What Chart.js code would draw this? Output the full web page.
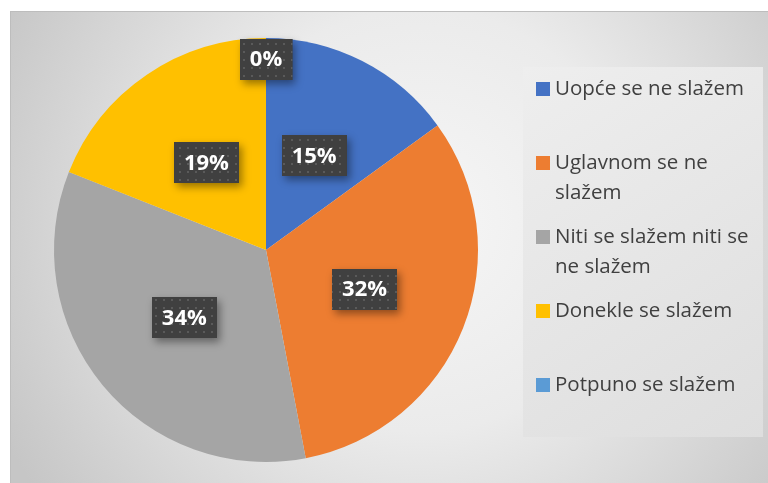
<!DOCTYPE html>
<html>
<head>
<meta charset="utf-8">
<script src="https://cdn.jsdelivr.net/npm/chart.js@4.4.1/dist/chart.umd.min.js"></script>
<style>
    html, body { margin: 0; padding: 0; background: #fff; }
    #wrap { position: relative; width: 768px; height: 483px; }
</style>
</head>
<body>
<div id="wrap"><canvas id="chart"></canvas></div>
<script>
// Chart data
const categories = ['Uopće se ne slažem', 'Uglavnom se ne slažem', 'Niti se slažem niti se ne slažem', 'Donekle se slažem', 'Potpuno se slažem'];
const percentages = [15, 32, 34, 19, 0];
const sliceColors = ['#4472C4', '#ED7D31', '#A5A5A5', '#FFC000', '#5B9BD5'];

// Dotted dark texture for the data label boxes
function makeDotPattern(ctx) {
    const c = document.createElement('canvas');
    c.width = 8;
    c.height = 8;
    const p = c.getContext('2d');
    p.fillStyle = '#404040';
    p.fillRect(0, 0, 8, 8);
    p.fillStyle = '#5a5a5a';
    p.fillRect(3, 3, 2, 2);
    return ctx.createPattern(c, 'repeat');
}

const backgroundPlugin = {
    id: 'plotBackground',
    beforeDraw(chart) {
        const ctx = chart.ctx;
        const w = chart.width, h = chart.height;
        ctx.save();
        ctx.fillStyle = '#ffffff';
        ctx.fillRect(0, 0, w, h);
        const g = ctx.createRadialGradient(420, 220, 0, 420, 220, 470);
        g.addColorStop(0, '#f6f6f6');
        g.addColorStop(0.45, '#ebebeb');
        g.addColorStop(1, '#c6c6c6');
        ctx.fillStyle = g;
        ctx.fillRect(10, 11, w - 10, h - 11);
        ctx.fillStyle = '#bdbdbd';
        ctx.fillRect(10, 11, w - 10, 1);
        ctx.fillRect(10, 11, 1, h - 11);
        ctx.restore();
    }
};

const labelPlugin = {
    id: 'boxLabels',
    afterDatasetsDraw(chart) {
        const ctx = chart.ctx;
        const meta = chart.getDatasetMeta(0);
        const values = chart.data.datasets[0].data;
        const pattern = makeDotPattern(ctx);
        ctx.save();
        ctx.font = 'bold 22px "Open Sans"';
        ctx.textAlign = 'center';
        ctx.textBaseline = 'middle';
        meta.data.forEach((arc, i) => {
            const { x, y, startAngle, endAngle, outerRadius } = arc.getProps(['x', 'y', 'startAngle', 'endAngle', 'outerRadius'], true);
            const mid = (startAngle + endAngle) / 2;
            const dist = values[i] === 0 ? outerRadius * 0.9 : outerRadius * 0.5;
            const cx = x + Math.cos(mid) * dist;
            const cy = y + Math.sin(mid) * dist;
            const text = values[i] + '%';
            const bw = ctx.measureText(text).width + 20;
            const bh = 41;
            const bx = Math.round(cx - bw / 2), by = Math.round(cy - bh / 2);
            ctx.shadowColor = 'rgba(0,0,0,0.4)';
            ctx.shadowBlur = 8;
            ctx.shadowOffsetX = 3;
            ctx.shadowOffsetY = 4;
            ctx.fillStyle = '#404040';
            ctx.fillRect(bx, by, bw, bh);
            ctx.shadowColor = 'transparent';
            ctx.fillStyle = pattern;
            ctx.fillRect(bx, by, bw, bh);
            ctx.fillStyle = '#ffffff';
            ctx.fillText(text, cx, cy + 1);
        });
        ctx.restore();
    }
};

function wrapText(ctx, text, maxWidth) {
    const words = text.split(' ');
    const lines = [];
    let line = '';
    words.forEach(wd => {
        const test = line ? line + ' ' + wd : wd;
        if (ctx.measureText(test).width > maxWidth && line) {
            lines.push(line);
            line = wd;
        } else {
            line = test;
        }
    });
    if (line) lines.push(line);
    return lines;
}

const legendPlugin = {
    id: 'sideLegend',
    afterDraw(chart) {
        const ctx = chart.ctx;
        const labels = chart.data.labels;
        const colors = chart.data.datasets[0].backgroundColor;
        const left = 523, top = 67, right = 763, bottom = 437;
        ctx.save();
        const g = ctx.createLinearGradient(left, top, right, bottom);
        g.addColorStop(0, '#eeeeee');
        g.addColorStop(1, '#dedede');
        ctx.fillStyle = g;
        ctx.fillRect(left, top, right - left, bottom - top);
        ctx.font = '20.5px "Open Sans"';
        ctx.textBaseline = 'middle';
        ctx.textAlign = 'left';
        const slot = (bottom - top) / labels.length;
        labels.forEach((label, i) => {
            const lineY = top + i * slot + 22;
            ctx.fillStyle = colors[i];
            ctx.fillRect(536, lineY - 7, 14, 14);
            ctx.fillStyle = '#404040';
            wrapText(ctx, label, 202).forEach((ln, j) => {
                ctx.fillText(ln, 555, lineY + j * 30);
            });
        });
        ctx.restore();
    }
};

new Chart(document.getElementById('chart'), {
    type: 'pie',
    data: {
        labels: categories,
        datasets: [{
            data: percentages,
            backgroundColor: sliceColors,
            borderWidth: 0
        }]
    },
    options: {
        responsive: true,
        maintainAspectRatio: false,
        animation: false,
        layout: {
            padding: { left: 54, right: 290, top: 38, bottom: 21 }
        },
        plugins: {
            legend: { display: false },
            tooltip: { enabled: false }
        }
    },
    plugins: [backgroundPlugin, labelPlugin, legendPlugin]
});
</script>
</body>
</html>
